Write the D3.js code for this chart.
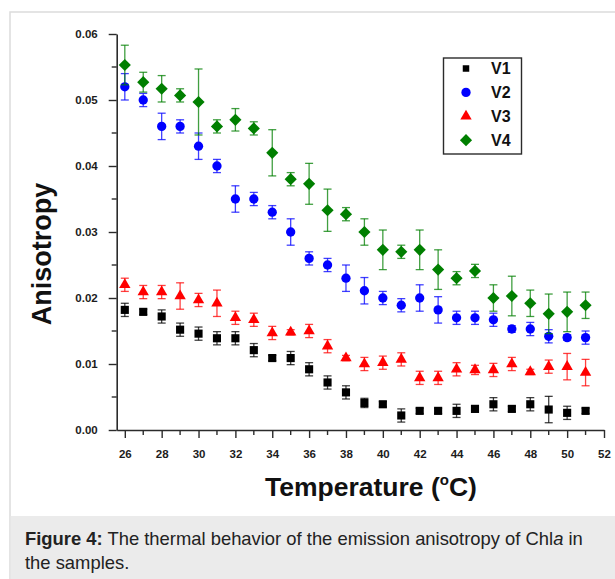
<!DOCTYPE html>
<html>
<head>
<meta charset="utf-8">
<script src="https://cdn.jsdelivr.net/npm/d3@7"></script>
<style>
  html, body { margin: 0; padding: 0; background: #fff; }
  svg { display: block; }
  text { font-family: Arial, "Liberation Sans", sans-serif; }
</style>
</head>
<body>
<svg id="chart" width="615" height="579"></svg>
<script>
// Temperature (°C) of each measurement
const temps = [26, 27, 28, 29, 30, 31, 32, 33, 34, 35, 36, 37, 38,
               39, 40, 41, 42, 43, 44, 45, 46, 47, 48, 49, 50, 51];

// Emission anisotropy of Chla per sample, with standard deviations
const v1 = [0.0182, 0.0179, 0.0172, 0.0152, 0.0146, 0.0139, 0.0139, 0.0121, 0.0109, 0.0109, 0.0092, 0.0072, 0.0057,
            0.0041, 0.0039, 0.0022, 0.0029, 0.0029, 0.0029, 0.0032, 0.0039, 0.0032, 0.0039, 0.0031, 0.0026, 0.0029];
const v1Err = [0.001, 0.0004, 0.001, 0.001, 0.001, 0.001, 0.001, 0.001, 0.0004, 0.001, 0.001, 0.001, 0.001,
               0.0007, 0.0004, 0.001, 0.0004, 0.0004, 0.001, 0.0005, 0.001, 0.0004, 0.001, 0.002, 0.001, 0.0004];

const v2 = [0.0520, 0.0500, 0.0460, 0.0460, 0.0430, 0.0400, 0.0350, 0.0350, 0.0330, 0.0300, 0.0260, 0.0250, 0.0230,
            0.0211, 0.0200, 0.0189, 0.0200, 0.0182, 0.0170, 0.0170, 0.0167, 0.0153, 0.0153, 0.0142, 0.0140, 0.0140];
const v2Err = [0.002, 0.001, 0.002, 0.001, 0.002, 0.001, 0.002, 0.001, 0.001, 0.002, 0.001, 0.001, 0.002,
               0.002, 0.001, 0.001, 0.002, 0.002, 0.001, 0.001, 0.001, 0.0005, 0.001, 0.001, 0.0004, 0.001];

const v3 = [0.0220, 0.0209, 0.0209, 0.0203, 0.0197, 0.0192, 0.0170, 0.0167, 0.0147, 0.0148, 0.0150, 0.0127, 0.0109,
            0.0100, 0.0102, 0.0107, 0.0079, 0.0079, 0.0092, 0.0091, 0.0091, 0.0100, 0.0088, 0.0096, 0.0096, 0.0087];
const v3Err = [0.001, 0.001, 0.001, 0.002, 0.001, 0.002, 0.001, 0.001, 0.001, 0.0004, 0.001, 0.001, 0.0004,
               0.001, 0.001, 0.001, 0.001, 0.001, 0.001, 0.0007, 0.001, 0.001, 0.0004, 0.001, 0.002, 0.002];

const v4 = [0.0553, 0.0527, 0.0517, 0.0507, 0.0497, 0.0460, 0.0470, 0.0457, 0.0420, 0.0380, 0.0373, 0.0333, 0.0327,
            0.0300, 0.0273, 0.0270, 0.0273, 0.0243, 0.0230, 0.0241, 0.0200, 0.0203, 0.0192, 0.0176, 0.0179, 0.0189];
const v4Err = [0.003, 0.0015, 0.002, 0.001, 0.005, 0.001, 0.0017, 0.001, 0.0035, 0.001, 0.0031, 0.0032, 0.001,
               0.002, 0.003, 0.001, 0.003, 0.003, 0.001, 0.001, 0.002, 0.003, 0.002, 0.003, 0.003, 0.002];

const seriesNames = ["V1", "V2", "V3", "V4"];
const xTicks = [26, 28, 30, 32, 34, 36, 38, 40, 42, 44, 46, 48, 50, 52];
const yTicks = [0.00, 0.01, 0.02, 0.03, 0.04, 0.05, 0.06];

const series = [
  { name: seriesNames[0], values: v1, errs: v1Err, color: "#000000", shape: "square" },
  { name: seriesNames[1], values: v2, errs: v2Err, color: "#0000ff", shape: "circle" },
  { name: seriesNames[2], values: v3, errs: v3Err, color: "#ff0000", shape: "triangle" },
  { name: seriesNames[3], values: v4, errs: v4Err, color: "#007f00", shape: "diamond" }
];

const svg = d3.select("#chart");

// Figure frame and caption panel
svg.append("rect").attr("x", 10).attr("y", 12).attr("width", 610).attr("height", 570)
  .attr("fill", "#fff").attr("stroke", "#dcdcdc").attr("stroke-width", 1.5);
svg.append("rect").attr("x", 10.75).attr("y", 516).attr("width", 605).attr("height", 63)
  .attr("fill", "#ebebeb");

const x = d3.scaleLinear().domain([25.56, 52]).range([116.7, 604]);
const y = d3.scaleLinear().domain([0, 0.06]).range([430, 34]);

const axisColor = "#2b2b2b";

// Minor ticks
const xMinor = d3.range(27, 52, 2);
const yMinor = d3.range(0.005, 0.06, 0.01);

const gx = svg.append("g").attr("transform", `translate(0,${y(0)})`);
gx.call(d3.axisBottom(x).tickValues(xTicks).tickSize(8).tickSizeOuter(0).tickPadding(12)
  .tickFormat(d3.format("d")));
gx.append("g").selectAll("line").data(xMinor).join("line")
  .attr("x1", d => x(d)).attr("x2", d => x(d)).attr("y1", 0).attr("y2", 5);

const gy = svg.append("g").attr("transform", `translate(${x.range()[0]},0)`);
gy.call(d3.axisLeft(y).tickValues(yTicks).tickSize(8).tickSizeOuter(0).tickPadding(11)
  .tickFormat(d3.format(".2f")));
gy.append("g").selectAll("line").data(yMinor).join("line")
  .attr("x1", 0).attr("x2", -5).attr("y1", d => y(d)).attr("y2", d => y(d));

[gx, gy].forEach(g => {
  g.selectAll("path.domain").attr("stroke", axisColor).attr("stroke-width", 1.6);
  g.selectAll("line").attr("stroke", axisColor).attr("stroke-width", 1.4);
  g.selectAll("text").attr("fill", "#1c1c1c").attr("font-size", 11.5).attr("font-weight", "bold")
    .attr("font-family", "Arial, 'Liberation Sans', sans-serif");
});

// Axis titles
svg.append("text")
  .attr("transform", `translate(51,${(y(0) + y(0.06)) / 2 + 22}) rotate(-90)`)
  .attr("text-anchor", "middle").attr("font-size", 27).attr("font-weight", "bold").attr("fill", "#111")
  .text("Anisotropy");

const xt = svg.append("text").attr("x", 371).attr("y", 496)
  .attr("text-anchor", "middle").attr("font-size", 26.5).attr("font-weight", "bold").attr("fill", "#111");
xt.append("tspan").text("Temperature (");
xt.append("tspan").attr("font-size", 15).attr("dy", -11).text("o");
xt.append("tspan").attr("dy", 11).text("C)");

// Marker shapes
function symbolPath(shape) {
  if (shape === "square") return d3.symbol(d3.symbolSquare, 66)();
  if (shape === "circle") return d3.symbol(d3.symbolCircle, 68)();
  if (shape === "triangle") return d3.symbol(d3.symbolTriangle, 56)();
  return d3.symbol(d3.symbolSquare, 74)();
}
const shapeRotate = s => (s === "diamond" ? " rotate(45)" : "");

// Error bars and markers
const capHalf = 4;
series.forEach(s => {
  const g = svg.append("g");
  const pts = temps.map((t, i) => ({ t, v: s.values[i], e: s.errs[i] }));
  const eb = g.append("g").attr("stroke", s.color).attr("stroke-opacity", 0.75).attr("stroke-width", 1.3)
    .selectAll("g").data(pts).join("g");
  eb.append("line").attr("x1", d => x(d.t)).attr("x2", d => x(d.t))
    .attr("y1", d => y(d.v + d.e)).attr("y2", d => y(d.v - d.e));
  eb.append("line").attr("x1", d => x(d.t) - capHalf).attr("x2", d => x(d.t) + capHalf)
    .attr("y1", d => y(d.v + d.e)).attr("y2", d => y(d.v + d.e));
  eb.append("line").attr("x1", d => x(d.t) - capHalf).attr("x2", d => x(d.t) + capHalf)
    .attr("y1", d => y(d.v - d.e)).attr("y2", d => y(d.v - d.e));
  g.append("g").selectAll("path").data(pts).join("path")
    .attr("d", symbolPath(s.shape))
    .attr("transform", d => `translate(${x(d.t)},${y(d.v)})${shapeRotate(s.shape)}`)
    .attr("fill", s.color);
});

// Legend
const lg = svg.append("g");
lg.append("rect").attr("x", 443.5).attr("y", 58).attr("width", 78).attr("height", 96)
  .attr("fill", "#fff").attr("stroke", "#2b2b2b").attr("stroke-width", 1.4);
series.forEach((s, i) => {
  const cy = 68.5 + i * 23.9;
  lg.append("path").attr("d", symbolPath(s.shape) )
    .attr("transform", `translate(466,${cy})${shapeRotate(s.shape)}` + (s.shape === "square" ? " scale(0.8)" : ""))
    .attr("fill", s.color);
  lg.append("text").attr("x", 491).attr("y", cy + 5.5).attr("font-size", 16).attr("font-weight", "bold")
    .attr("fill", "#111").text(s.name);
});

// Caption
const cap = svg.append("text").attr("x", 25).attr("y", 545).attr("font-size", 18.4).attr("fill", "#222");
cap.append("tspan").attr("font-weight", "bold").text("Figure 4:");
cap.append("tspan").text(" The thermal behavior of the emission anisotropy of Chl");
cap.append("tspan").attr("font-style", "italic").text("a");
cap.append("tspan").text(" in");
svg.append("text").attr("x", 25).attr("y", 569).attr("font-size", 18.4).attr("fill", "#222")
  .text("the samples.");
</script>
</body>
</html>
